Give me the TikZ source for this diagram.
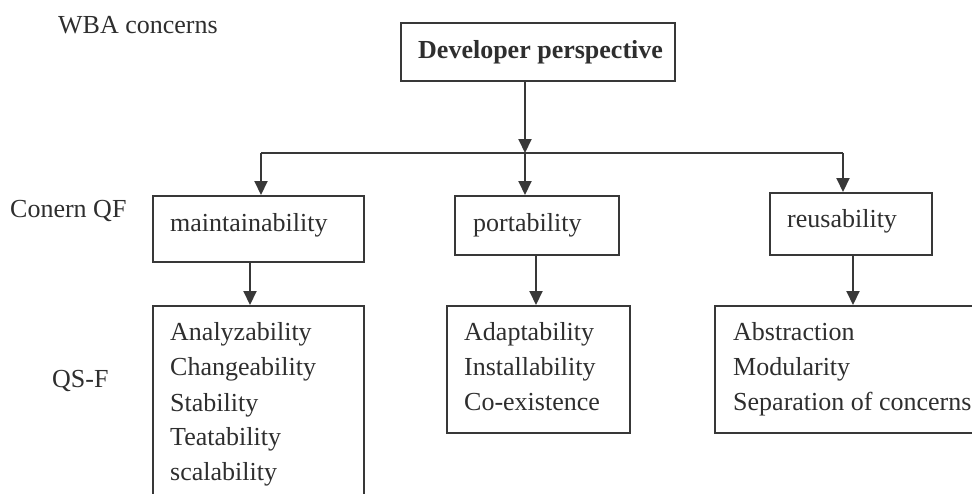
\documentclass[tikz,border=0pt]{standalone}
\usepackage{fontspec}
\setmainfont{Liberation Serif}
\usetikzlibrary{arrows.meta}
\definecolor{ink}{gray}{0.22}
\definecolor{txt}{gray}{0.18}
\begin{document}
\begin{tikzpicture}[x=1pt,y=-1pt,
  box/.style={draw=ink,line width=2.2pt,inner sep=0pt,anchor=north west},
  lbl/.style={anchor=base west,inner sep=0pt,text=txt,font=\fontsize{26}{35}\selectfont},
  conn/.style={draw=ink,line width=2pt,-{Triangle[width=13pt,length=14pt]}},
  bar/.style={draw=ink,line width=2pt}
]
\useasboundingbox (0,0) rectangle (972,493);
\clip (0,0) rectangle (972,493);

% boxes
\node[box,minimum width=274pt,minimum height=58pt] (dev) at (400,22) {};
\node[box,minimum width=211pt,minimum height=66pt] (mnt) at (152,195) {};
\node[box,minimum width=164pt,minimum height=59pt] (prt) at (454,195) {};
\node[box,minimum width=162pt,minimum height=62pt] (reu) at (769,192) {};
\node[box,minimum width=211pt,minimum height=220pt] (qs1) at (152,305) {};
\node[box,minimum width=183pt,minimum height=127pt] (qs2) at (446,305) {};
\node[box,minimum width=280pt,minimum height=127pt] (qs3) at (714,305) {};

% branching points
\coordinate (j)  at (525,153);
\coordinate (jl) at (261,153);
\coordinate (jr) at (843,153);
\coordinate (d1) at (250,0);
\coordinate (d2) at (536,0);
\coordinate (d3) at (853,0);

% connectors
\draw[conn] (j |- dev.south) -- (j);
\draw[bar] (jl) -- (jr);
\draw[conn] (jl) -- (jl |- mnt.north);
\draw[conn] (j) -- (j |- prt.north);
\draw[conn] (jr) -- (jr |- reu.north);
\draw[conn] (d1 |- mnt.south) -- (d1 |- qs1.north);
\draw[conn] (d2 |- prt.south) -- (d2 |- qs2.north);
\draw[conn] (d3 |- reu.south) -- (d3 |- qs3.north);

% labels
\node[lbl] (wba) at (58,33) {WBA concerns};
\node[lbl,font=\bfseries\fontsize{26}{35}\selectfont] (devt) at (418,58) {Developer perspective};
\node[lbl] (cqf) at (10,217) {Conern QF};
\node[lbl] (qsf) at (52,387) {QS-F};
\node[lbl] (mntt) at (170,231) {maintainability};
\node[lbl] (prtt) at (473,231) {portability};
\node[lbl] (reut) at (787,227) {reusability};

\node[lbl] (a1) at (170,340) {Analyzability};
\node[lbl] (a2) at (170,375) {Changeability};
\node[lbl] (a3) at (170,411) {Stability};
\node[lbl] (a4) at (170,445) {Teatability};
\node[lbl] (a5) at (170,480) {scalability};

\node[lbl] (b1) at (464,340) {Adaptability};
\node[lbl] (b2) at (464,375) {Installability};
\node[lbl] (b3) at (464,410) {Co-existence};

\node[lbl] (c1) at (733,340) {Abstraction};
\node[lbl] (c2) at (733,375) {Modularity};
\node[lbl] (c3) at (733,410) {Separation of concerns};
\end{tikzpicture}
\end{document}
